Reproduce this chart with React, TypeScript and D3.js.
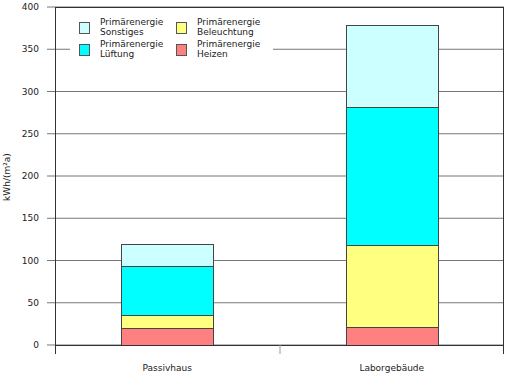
import React from 'react';
import * as d3 from 'd3';

const categories = ['Passivhaus', 'Laborgebäude'];
const seriesNames = ['Heizen', 'Beleuchtung', 'Lüftung', 'Sonstiges'];
const heizen = [20, 21];
const beleuchtung = [15, 97];
const lueftung = [59, 164];
const sonstiges = [25, 97];
const yTicks = [0, 50, 100, 150, 200, 250, 300, 350, 400];
const colors = ['#ff8080', '#ffff80', '#00ffff', '#ccffff'];

const width = 505;
const height = 374;
const left = 55;
const right = 504;
const top = 7;
const bottom = 345;
const font = '"DejaVu Sans", sans-serif';

export default function App() {
  const x = d3.scaleBand().domain(categories).range([left, right]).paddingInner(0).paddingOuter(0);
  const y = d3.scaleLinear().domain([0, 400]).range([bottom, top]);

  const table = categories.map((c, i) => ({
    cat: c,
    Heizen: heizen[i],
    Beleuchtung: beleuchtung[i],
    'Lüftung': lueftung[i],
    Sonstiges: sonstiges[i],
  }));
  const stacked = d3.stack<any>().keys(seriesNames)(table);
  const barW = x.bandwidth() * 0.41;

  // legend order: Sonstiges, Beleuchtung / Lüftung, Heizen
  const legend = [
    { name: 'Sonstiges', col: 0, row: 0 },
    { name: 'Beleuchtung', col: 1, row: 0 },
    { name: 'Lüftung', col: 0, row: 1 },
    { name: 'Heizen', col: 1, row: 1 },
  ];

  return (
    <svg width={width} height={height} style={{ position: 'absolute', left: 0, top: 0 }}
      fontFamily={font}>
      <rect x={0} y={0} width={width} height={height} fill="#fff" />
      {yTicks.map(t => (
        <g key={t}>
          <line x1={47} x2={right} y1={y(t)} y2={y(t)} stroke="#777" strokeWidth={1} />
          <text x={39} y={y(t) + 3} textAnchor="end" fontSize={9} fill="#222">{t}</text>
        </g>
      ))}
      <rect x={70} y={14} width={203} height={52} fill="#fff" />
      {legend.map(l => {
        const i = seriesNames.indexOf(l.name);
        const lx = 79 + l.col * 97;
        const ly = 22 + l.row * 22;
        return (
          <g key={l.name}>
            <rect x={lx + 0.5} y={ly + 0.5} width={10} height={11} fill={colors[i]} stroke="#555" />
            <text x={lx + 21} y={ly + 3} fontSize={9} fill="#222">Primärenergie</text>
            <text x={lx + 21} y={ly + 13} fontSize={9} fill="#222">{l.name}</text>
          </g>
        );
      })}
      {stacked.map((s, si) => (
        <g key={s.key}>
          {s.map((d, i) => (
            <rect key={i}
              x={Math.round(x(categories[i])! + (x.bandwidth() - barW) / 2) + 0.5}
              y={Math.round(y(d[1])) + 0.5}
              width={Math.round(barW)}
              height={Math.round(y(d[0])) - Math.round(y(d[1]))}
              fill={colors[si]} stroke="#444" strokeWidth={1} />
          ))}
        </g>
      ))}
      <line x1={left + 0.5} x2={left + 0.5} y1={top} y2={354} stroke="#333" />
      <line x1={right - 0.5} x2={right - 0.5} y1={top} y2={354} stroke="#333" />
      <line x1={left} x2={right} y1={bottom + 0.5} y2={bottom + 0.5} stroke="#333" />
      <line x1={left} x2={right} y1={top + 0.5} y2={top + 0.5} stroke="#333" />
      {categories.slice(1).map(c => (
        <line key={c} x1={x(c)! + 0.5} x2={x(c)! + 0.5} y1={bottom} y2={354} stroke="#999" />
      ))}
      {categories.map(c => (
        <text key={c} x={x(c)! + x.bandwidth() / 2} y={371} textAnchor="middle" fontSize={9} fill="#222">{c}</text>
      ))}
      <text transform={`translate(10,177) rotate(-90)`} textAnchor="middle" fontSize={9} fill="#222">kWh/(m²a)</text>
    </svg>
  );
}
